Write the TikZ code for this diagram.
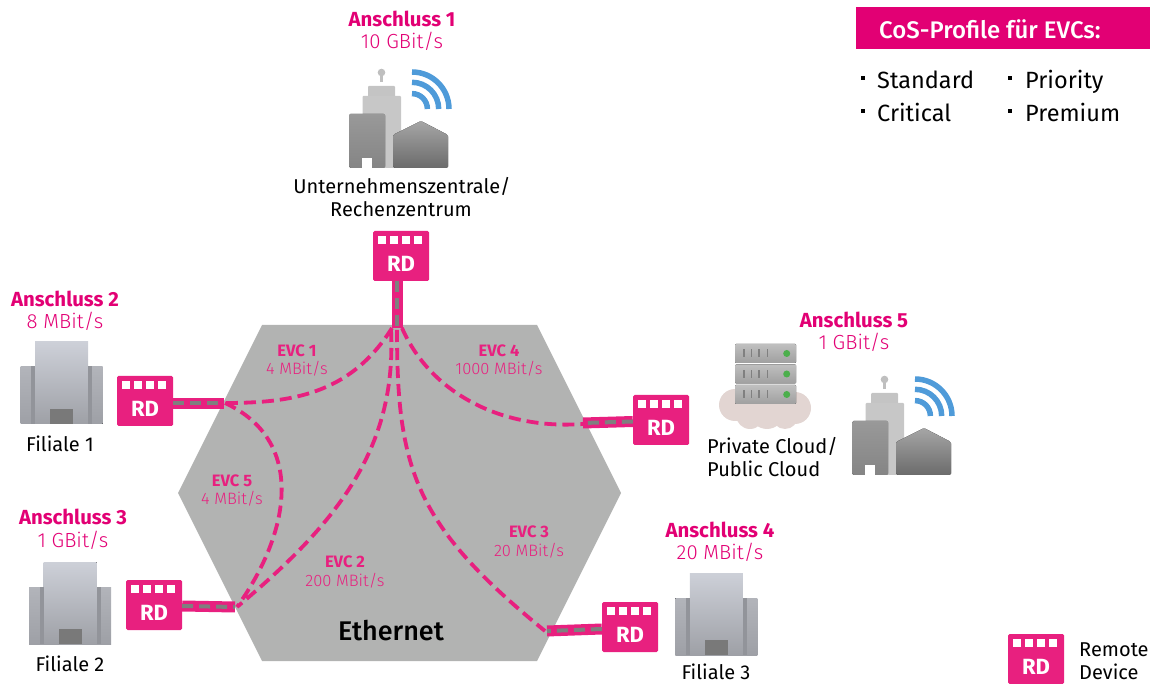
\documentclass[tikz,border=0pt]{standalone}
\usepackage{fontspec}
\setmainfont{Fira Sans}
\newfontfamily\medfont{Fira Sans Medium}
\newfontfamily\lightfont{Fira Sans Light}
\usepackage{xcolor}
\usepackage{tikz}
\definecolor{tmagenta}{HTML}{E20074}
\definecolor{rdpink}{HTML}{E8207F}
\definecolor{hexgray}{HTML}{B2B3B2}
\definecolor{linkgray}{HTML}{7F7F7F}
\definecolor{wifiblue}{HTML}{4F9BD9}
\definecolor{bldtop}{HTML}{CDD0D8}
\definecolor{bldlow}{HTML}{9EA0A6}
\definecolor{wingtop}{HTML}{B2B4BA}
\definecolor{bldcol}{HTML}{92949A}
\definecolor{clouds}{HTML}{E2D5D2}
\tikzset{
  titlelabel/.style={text=tmagenta,font=\fontsize{20.4}{22}\selectfont\bfseries,inner sep=0pt},
  ratelabel/.style={text=tmagenta,font=\fontsize{20.4}{22}\selectfont\lightfont,inner sep=0pt},
  evctitle/.style={text=rdpink,font=\fontsize{16.5}{18}\selectfont\bfseries,inner sep=0pt},
  evcrate/.style={text=rdpink,font=\fontsize{16.5}{18}\selectfont\lightfont,inner sep=0pt},
  sitelabel/.style={text=black,font=\fontsize{20}{22}\selectfont,inner sep=0pt},
  profile/.style={text=black,font=\fontsize{23.5}{25}\selectfont,inner sep=0pt,anchor=base west},
  bulletsq/.style={fill=black,minimum size=4pt,inner sep=0pt},
  evcline/.style={draw=rdpink,line width=3.8pt,dash pattern=on 12pt off 6pt},
  rdlink/.style={draw=rdpink,line width=11pt,postaction={draw=linkgray,line width=4pt,dash pattern=on 11pt off 6pt}},
  rdbox/.style={fill=rdpink,minimum width=56pt,minimum height=50pt,inner sep=0pt,rounded corners=1.5pt},
  rdtext/.style={text=white,font=\fontsize{22}{24}\selectfont\bfseries,inner sep=0pt},
  rdsq/.style={fill=white},
  pics/rdpic/.style={code={
    \node[rdbox] (-box) at (28,25) {};
    \foreach \sx in {5,17,29,41}
      \fill[rdsq] (\sx,5) rectangle ++(8,8);
    \node[rdtext] (-txt) at (28,33) {RD};
  }},
  pics/filiale/.style={code={
    \fill[top color=wingtop,bottom color=bldlow] (0,25) rectangle (82,82);
    \fill[top color=bldtop,bottom color=bldlow] (14.5,0) rectangle (67.5,82);
    \fill[bldcol] (10.5,24.5) rectangle (14.5,82);
    \fill[bldcol] (67.5,24.5) rectangle (71.5,82);
    \fill[gray!95!black] (29.5,67) rectangle (52.5,82);
  }},
  pics/zentrale/.style={code={
    \fill[black!25] (32.5,-0.5) circle (3.8);
    \fill[black!25] (30.8,0) rectangle (34.2,9);
    \fill[black!23,rounded corners=1pt] (19,13) rectangle (46,24);
    \fill[black!22,rounded corners=1pt] (13.5,23) rectangle (52,95);
    \fill[top color=black!40,bottom color=black!48,rounded corners=1.5pt] (0,41) rectangle (36,95);
    \fill[white] (13,85) rectangle (23,96);
    \fill[top color=black!35,bottom color=black!58,rounded corners=1.5pt] (44,95) -- (44,62) -- (72,48) -- (99,62) -- (99,95) -- cycle;
    \draw[wifiblue,line width=5.5pt] (63,-1) arc[start angle=90,end angle=0,radius=37pt];
    \draw[wifiblue,line width=5.5pt] (63,9.3) arc[start angle=90,end angle=0,radius=26.7pt];
    \draw[wifiblue,line width=5.5pt] (63,20.6) arc[start angle=90,end angle=0,radius=15.4pt];
  }},
}

\begin{document}
\begin{tikzpicture}[x=1pt,y=-1pt]
    \useasboundingbox (0,0) rectangle (1160,684);

    \fill[hexgray] (262,325) -- (537,325) -- (621,493) -- (537,661) -- (262,661) -- (178,493) -- cycle;

    \coordinate (hubAa) at (392,328);
    \coordinate (hubAb) at (391,330);
    \coordinate (hubAc) at (397,330);
    \coordinate (hubAd) at (402,328);
    \coordinate (hubB) at (225,403);
    \coordinate (hubC) at (237,607);
    \coordinate (hubD) at (583,424);
    \coordinate (hubE) at (545,631);

    \path[evcline]
    (hubAa) .. controls (350,395) and (290,403) .. (hubB)
    (hubAb) .. controls (397,450) and (335,525) .. (hubC)
    (hubAc) .. controls (397,470) and (415,525) .. (hubE)
    (hubAd) .. controls (430,392) and (500,430) .. (hubD)
    (hubB) .. controls (305,440) and (292,530) .. (hubC)
    ;

    \pic (rdA) at (373,231) {rdpic};
    \pic (rdB) at (117,376) {rdpic};
    \pic (rdC) at (126,580) {rdpic};
    \pic (rdD) at (633,395) {rdpic};
    \pic (rdE) at (602,602) {rdpic};
    \pic (rdL) at (1008,634) {rdpic};

    \coordinate (portA) at (397,328);
    \coordinate (portB) at (224,403.5);
    \coordinate (portC) at (235,607);
    \coordinate (portD) at (583,423);
    \coordinate (portE) at (547,631);

    \path[rdlink] (rdA-box.south -| portA) -- (portA);
    \path[rdlink] (rdB-box.east |- portB) -- (portB);
    \path[rdlink] (rdC-box.east |- 0,606) -- (portC);
    \path[rdlink] (rdD-box.west |- 0,421.5) -- (portD);
    \path[rdlink] (rdE-box.west |- 0,629) -- (portE);

    \pic at (20.7,342) {filiale};
    \pic at (29,562) {filiale};
    \pic at (675.3,573) {filiale};
    \pic at (349,73) {zentrale};
    \pic at (852,380) {zentrale};

    % cloud with server
    \fill[clouds] (735,405) circle (16) (795,408) circle (16) (750,415) circle (14) (767,412) circle (17) (785,416) circle (13);
    \foreach \uy in {344,364.5,385} {
      \fill[top color=gray!50,bottom color=gray!75,rounded corners=1pt] (735,\uy) rectangle (796,\uy+19);
      \foreach \bx in {743.3,750.7,758.3,766.7}
        \fill[gray] (\bx,\uy+5.5) rectangle ++(1.6,8);
      \fill[green!55!black!70!white] (786.7,\uy+9.5) circle (3.5);
    }

    \node[titlelabel] (anA) at (402,19) {Anschluss 1};
    \node[ratelabel] (raA) at (402,41) {10 GBit/s};
    \node[titlelabel] (anB) at (65,299) {Anschluss 2};
    \node[ratelabel] (raB) at (65,321) {8 MBit/s};
    \node[titlelabel] (anC) at (73,517) {Anschluss 3};
    \node[ratelabel] (raC) at (73,540) {1 GBit/s};
    \node[titlelabel] (anD) at (720,530) {Anschluss 4};
    \node[ratelabel] (raD) at (720,552) {20 MBit/s};
    \node[titlelabel] (anE) at (854,320) {Anschluss 5};
    \node[ratelabel] (raE) at (854,342) {1 GBit/s};

    \node[evctitle] (evA) at (297,351) {EVC 1};
    \node[evcrate] (erA) at (297,369) {4 MBit/s};
    \node[evctitle] (evB) at (345,562) {EVC 2};
    \node[evcrate] (erB) at (345,581) {200 MBit/s};
    \node[evctitle] (evC) at (529,532) {EVC 3};
    \node[evcrate] (erC) at (529,551) {20 MBit/s};
    \node[evctitle] (evD) at (499,351) {EVC 4};
    \node[evcrate] (erD) at (499,369) {1000 MBit/s};
    \node[evctitle] (evE) at (232,481) {EVC 5};
    \node[evcrate] (erE) at (232,499) {4 MBit/s};

    \node[sitelabel] (hq1) at (402,186) {Unternehmenszentrale/};
    \node[sitelabel] (hq2) at (401,209) {Rechenzentrum};
    \node[sitelabel] (fi1) at (60,444) {Filiale 1};
    \node[sitelabel] (fi2) at (70,664) {Filiale 2};
    \node[sitelabel,anchor=base] (fi3) at (716,679) {Filiale 3};
    \node[sitelabel,anchor=base west] (cl1) at (707,454) {Private Cloud/};
    \node[sitelabel,anchor=base west] (cl2) at (707,477) {Public Cloud};
    \node[font=\fontsize{27}{29}\selectfont\medfont,inner sep=0pt] (eth) at (391,631) {Ethernet};

    \node[fill=tmagenta,minimum width=294pt,minimum height=42pt,inner sep=0pt] (cosbar) at (1003,28) {};
    \node[text=white,font=\fontsize{24}{26}\selectfont\medfont,inner sep=0pt,anchor=west] (costxt) at (879,29) {CoS-Profile für EVCs:};
    \node[bulletsq] (b1) at (863,78) {};
    \node[bulletsq] (b2) at (1010,78) {};
    \node[bulletsq] (b3) at (863,111) {};
    \node[bulletsq] (b4) at (1010,111) {};
    \node[profile] (pr1) at (877,88.5) {Standard};
    \node[profile] (pr2) at (1025,88.5) {Priority};
    \node[profile] (pr3) at (877,121.5) {Critical};
    \node[profile] (pr4) at (1025,121.5) {Premium};

    \node[sitelabel,anchor=base west] (le1) at (1079,656) {Remote};
    \node[sitelabel,anchor=base west] (le2) at (1079,679) {Device};
\end{tikzpicture}
\end{document}
